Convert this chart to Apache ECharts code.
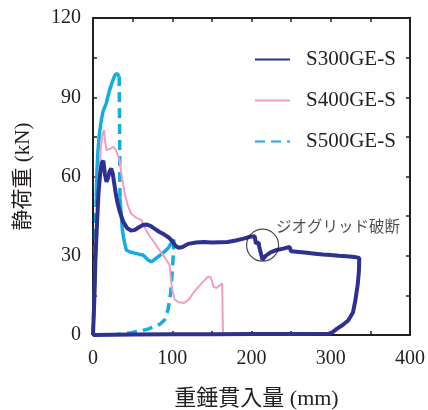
<!DOCTYPE html>
<html>
<head>
<meta charset="utf-8">
<script src="https://cdn.jsdelivr.net/npm/echarts@6/dist/echarts.min.js"></script>
<style>
html, body { margin: 0; padding: 0; background: #fff; }
#echarts { width: 428px; height: 410px; }
</style>
</head>
<body>
<div id="echarts"></div>
<script>
// tick labels
var xLabels = [0, 100, 200, 300, 400];
var yLabels = [0, 30, 60, 90, 120];

// S300GE-S  [mm, kN]
var s300 = [
    [0, 0], [1.5, 12], [3, 28], [5, 42], [7, 54], [9, 61], [11, 65], [13, 66],
    [15, 61], [17, 58], [19, 59.5], [21, 62], [23, 63], [25, 61], [27, 57],
    [29, 53], [31, 50], [34, 46.5], [38, 43], [43, 40.5], [48, 39.5], [53, 39.8],
    [58, 40.8], [63, 41.6], [68, 41.8], [73, 41.2], [78, 40.2], [84, 39], [90, 38],
    [96, 36.8], [100, 35.5], [104, 33.8], [108, 33], [113, 33.3], [120, 34.5],
    [130, 35], [140, 35.2], [150, 35], [160, 35.1], [170, 35.2], [180, 35.8],
    [190, 36.5], [198, 37.2], [204, 37.4], [205.5, 34.7], [209, 35], [210, 33],
    [212.5, 33.2], [214, 28.5], [218, 30], [224, 31.3], [232, 32.2], [240, 32.7],
    [248, 33.3], [250, 31.7], [260, 31.4], [270, 31.1], [280, 30.8], [290, 30.5],
    [300, 30.3], [310, 30], [320, 29.8], [330, 29.5], [336, 29.2], [335.5, 24],
    [334, 19], [331, 13], [328, 8.5], [322, 5.5], [315, 3.8], [308, 2.4],
    [302, 1], [298, 0.5], [250, 0.4], [200, 0.4], [150, 0.3], [100, 0.3], [50, 0.2], [0, 0]
];

// S400GE-S
var s400 = [
    [0, 0], [2, 8], [4, 30], [6, 50], [8, 62], [10, 71], [12, 76], [14, 77.6],
    [15, 74], [17, 70], [19, 69.4], [22, 70.5], [25, 71.3], [27, 71.6], [29, 70],
    [31.5, 68], [33.6, 66], [35.7, 61.3], [38, 57], [40, 53.7], [44, 49],
    [48, 46], [54, 44.5], [61, 43.5], [67, 39.7], [72, 37.2], [78, 34.8],
    [84, 32], [90, 29.6], [96.6, 26.5], [98, 22], [100, 17], [103, 13.5],
    [108, 12.4], [115, 12.1], [121, 13.5], [126.5, 15.9], [133, 18.2],
    [139, 20.2], [145, 22.1], [148, 22], [150, 20.5], [152, 18.3], [156, 17.8],
    [160, 18.8], [163, 19.5], [163.5, 10], [164, 0]
];

// S500GE-S, measured parts (solid) and unmeasured parts (dashed)
var s500Start = [[0, 0], [2, 18], [3, 36], [4, 52]];
var s500Load = [
    [4, 52], [5, 62], [6.3, 70], [8, 76], [10.5, 81.4], [13, 85], [16.8, 87.7],
    [19, 90.5], [21, 92.7], [24, 95.5], [27.4, 98.2], [30, 99], [31.5, 99], [33, 98]
];
var s500Drop = [[33, 98], [33.5, 80], [34, 52]];
var s500Soft = [
    [34, 52], [35, 48], [36, 44], [37, 40], [38.5, 37], [40, 34.7], [42, 32.2],
    [46, 31.5], [52.5, 31], [58, 30.6], [63, 30.3], [66, 29.5], [69.4, 28.4],
    [73.5, 27.7], [77, 28.4], [82, 29.6], [88, 31], [94.6, 32.8], [99, 34.8], [102, 36.2]
];
var s500Unload = [
    [102, 36.2], [101.5, 32], [101, 28.4], [99.5, 22], [98, 15.8], [94.6, 9.5],
    [90.3, 5.7], [84, 4], [78, 3.2], [70, 2.3], [61, 1.6], [48, 0.9], [35.7, 0.4], [30, 0.2]
];

// annotation
var notePoint = [[214, 34]];
var noteText = 'ジオグリッド破断';

var navy = '#2e3192';
var pink = '#f29dc3';
var cyan = '#12ade3';
var ink = '#231f20';
var serif = "'Liberation Serif', 'Noto Sans CJK JP', serif";

var myChart = echarts.init(document.getElementById('echarts'));

function line(name, data, color, width, type) {
    return {
        name: name,
        type: 'line',
        data: data,
        showSymbol: false,
        symbol: 'none',
        lineStyle: { color: color, width: width, type: type },
        itemStyle: { color: color },
        silent: true
    };
}

var tick = { inside: true, length: 4, lineStyle: { color: ink, width: 1.5 } };
var frame = { onZero: false, lineStyle: { color: ink, width: 2 } };

option = {
    animation: false,
    grid: { left: 93, top: 18, right: 18, bottom: 75, outerBoundsMode: 'none' },
    legend: {
        data: ['S300GE-S', 'S400GE-S', 'S500GE-S'],
        orient: 'vertical',
        left: 254,
        top: 49,
        padding: 0,
        itemWidth: 35,
        itemHeight: 14,
        itemGap: 20,
        itemStyle: { opacity: 0 },
        textStyle: { fontFamily: serif, fontSize: 21, color: ink, lineHeight: 21, padding: [0, 0, 0, 11] }
    },
    xAxis: [
        {
            type: 'value', min: 0, max: 400, interval: 50, z: 3,
            name: '重錘貫入量 (mm)', nameLocation: 'middle', nameGap: 53,
            nameTextStyle: { fontFamily: serif, fontSize: 22, color: ink, padding: [0, 0, 0, 10] },
            axisLine: frame,
            axisTick: tick,
            axisLabel: {
                margin: 14, fontFamily: serif, fontSize: 20, color: ink,
                formatter: function (v) { return xLabels.indexOf(v) >= 0 ? v : ''; }
            },
            splitLine: { show: false }
        },
        {
            type: 'value', min: 0, max: 400, interval: 50, position: 'top', z: 3,
            axisLine: frame,
            axisTick: tick,
            axisLabel: { show: false },
            splitLine: { show: false }
        }
    ],
    yAxis: [
        {
            type: 'value', min: 0, max: 120, interval: 15, z: 3,
            name: '静荷重 (kN)', nameLocation: 'middle', nameGap: 59, nameRotate: 90,
            nameTextStyle: { fontFamily: serif, fontSize: 21, color: ink },
            axisLine: frame,
            axisTick: tick,
            axisLabel: {
                margin: 12, fontFamily: serif, fontSize: 20, color: ink,
                formatter: function (v) { return yLabels.indexOf(v) >= 0 ? v : ''; }
            },
            splitLine: { show: false }
        },
        {
            type: 'value', min: 0, max: 120, interval: 15, position: 'right', z: 3,
            axisLine: frame,
            axisTick: tick,
            axisLabel: { show: false },
            splitLine: { show: false }
        }
    ],
    series: [
        line('S500GE-S', s500Start, cyan, 3.5, [10, 6]),
        line('S500GE-S', s500Load, cyan, 3.5, 'solid'),
        line('S500GE-S', s500Drop, cyan, 3.5, [10, 6]),
        line('S500GE-S', s500Soft, cyan, 3.5, 'solid'),
        line('S500GE-S', s500Unload, cyan, 3.5, [10, 6]),
        line('S400GE-S', s400, pink, 2, 'solid'),
        line('S300GE-S', s300, navy, 4, 'solid'),
        {
            name: 'note',
            type: 'scatter',
            data: notePoint,
            symbol: 'circle',
            symbolSize: 32,
            silent: true,
            itemStyle: { color: 'rgba(0,0,0,0)', borderColor: ink, borderWidth: 1.2 },
            label: {
                show: true,
                position: [30, -10],
                formatter: noteText,
                fontFamily: "'Noto Sans CJK JP', sans-serif",
                fontSize: 15.5,
                color: ink
            },
            z: 5
        }
    ]
};

myChart.setOption(option);
</script>
</body>
</html>
